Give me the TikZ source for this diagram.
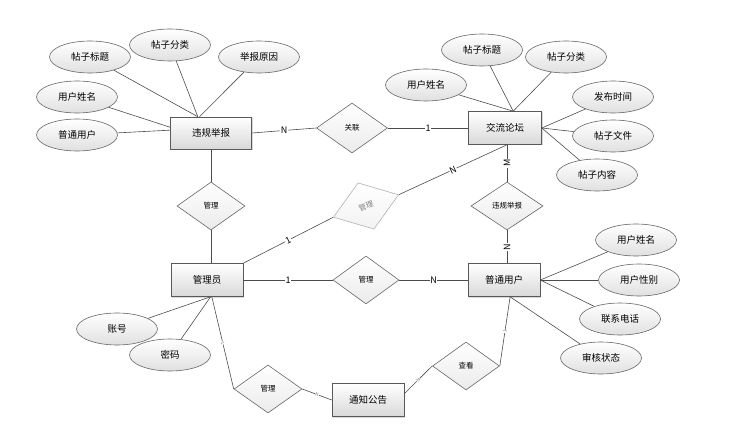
\documentclass[tikz,border=0pt]{standalone}
\usepackage{fontspec}
\setmainfont{Noto Sans CJK SC}
\usetikzlibrary{shapes.geometric,shadows}
\begin{document}
\begin{tikzpicture}[x=1pt,y=-1pt,line width=0.6pt,
    entity/.style={rectangle,draw=black!65,top color=white,bottom color=black!15,
      minimum width=72pt,minimum height=33pt,inner sep=0pt,font=\fontsize{9.5}{11}\selectfont,
      drop shadow={shadow xshift=1pt,shadow yshift=-1pt,opacity=0.3}},
    attr/.style={ellipse,draw=black!60,top color=white,bottom color=black!12,
      minimum width=81pt,minimum height=32pt,inner sep=0pt,font=\fontsize{9.5}{11}\selectfont},
    rel/.style={diamond,draw=black!60,top color=white,bottom color=black!8,
      minimum width=68pt,minimum height=48pt,inner sep=0pt,font=\fontsize{7.5}{8}\selectfont},
    card/.style={fill=white,inner sep=0.6pt,font=\fontsize{9}{10}\selectfont},
    tinycard/.style={fill=white,inner sep=0.3pt,text=black!55,font=\fontsize{4.5}{5}\selectfont}]
  \useasboundingbox (0,0) rectangle (743,446);
  \draw
    (211,133) node[entity,minimum width=81pt,minimum height=32pt] (wgjb){违规举报}
    (505,128) node[entity,minimum width=73pt] (jlzl){交流论坛}
    (207,280) node[entity] (gly){管理员}
    (504,280) node[entity] (ptyh){普通用户}
    (368,400) node[entity] (tzgg){通知公告};
  \draw
    (352,128) node[rel,minimum width=71pt,minimum height=50pt] (gl){关联}
    (211,206) node[rel] (glwg){管理}
    (507,206) node[rel,minimum width=72pt] (wgjbd){违规举报}
    (366,280) node[rel,minimum width=66pt] (glm){管理}
    (268,389) node[rel] (glb){管理}
    (466,366) node[rel,minimum width=67pt] (ck){查看}
    (366,206) node[rel,rotate=19,minimum width=69pt,minimum height=49pt,
      draw=black!30,text=black!50,bottom color=black!5] (glt){管理};
  \draw
    (90,57) node[attr] (e1){帖子标题}
    (170,45) node[attr] (e2){帖子分类}
    (259,57) node[attr] (e3){举报原因}
    (77,97) node[attr] (e4){用户姓名}
    (77,135) node[attr] (e5){普通用户}
    (426,85) node[attr] (f1){用户姓名}
    (482,50) node[attr] (f2){帖子标题}
    (566,57) node[attr] (f3){帖子分类}
    (613,97) node[attr] (f4){发布时间}
    (613,136) node[attr] (f5){帖子文件}
    (597,175) node[attr] (f6){帖子内容}
    (636,240) node[attr] (g1){用户姓名}
    (639,280) node[attr] (g2){用户性别}
    (620,319) node[attr] (g3){联系电话}
    (601,358) node[attr] (g4){审核状态}
    (170,355) node[attr] (h2){密码}
    (117,329) node[attr] (h1){账号};
  \begin{scope}[-,draw=black!70]
    \draw (e1) to (wgjb.129);
    \draw (e2) to (wgjb.129);
    \draw (e3) to (wgjb.125);
    \draw (e4) to (wgjb.172);
    \draw (e5) to (wgjb.176);
    \draw (f1) to (jlzl.64);
    \draw (f2) to (jlzl.64);
    \draw (f3) to (jlzl.64);
    \draw (f4) to (jlzl.east);
    \draw (f5) to (jlzl.east);
    \draw (f6) to (jlzl.east);
    \draw (g1) to (ptyh.east);
    \draw (g2) to (ptyh.east);
    \draw (g3) to (ptyh.east);
    \draw (g4) to (ptyh.290);
    \draw (h1) to (gly.282);
    \draw (h2) to (gly.282);
    \draw (wgjb.east) to node[card]{N} (gl.west);
    \draw (gl.east) to node[card]{1} (jlzl.west);
    \draw (wgjb.south) to (glwg.north);
    \draw (glwg.south) to (glwg.south |- gly.north);
    \draw (wgjbd.north |- jlzl.south) to node[card,rotate=90]{M} (wgjbd.north);
    \draw (wgjbd.south) to node[card,rotate=90]{N} (wgjbd.south |- ptyh.north);
    \draw (gly.north east) to node[card,sloped]{1} (glt.west);
    \draw (glt.east) to node[card,sloped]{N} (wgjbd.north |- jlzl.south);
    \draw (gly.east) to node[card]{1} (glm.west);
    \draw (glm.east) to node[card]{N} (ptyh.west);
    \draw (gly.286) to node[tinycard,sloped]{1} (glb.west);
    \draw (glb.east) to node[tinycard,sloped]{N} (tzgg.west);
    \draw (tzgg.10) to node[tinycard,sloped]{N} (ck.west);
    \draw (ck.east) to node[tinycard,sloped]{1} (ptyh.290);
  \end{scope}
\end{tikzpicture}
\end{document}
